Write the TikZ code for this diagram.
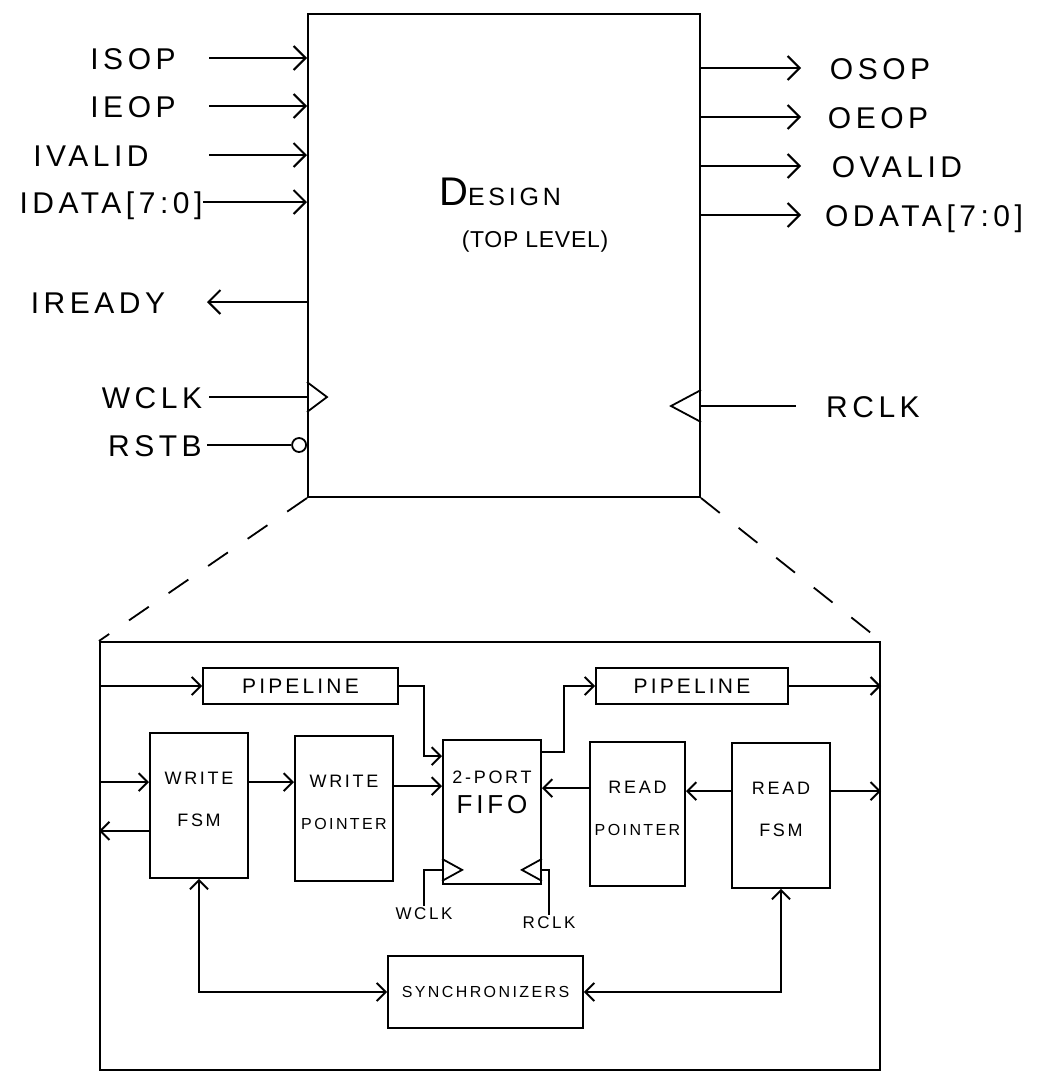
\documentclass[tikz,border=0pt]{standalone}
\usepackage{fontspec}
\newfontfamily\handfont[LetterSpace=15]{Liberation Sans}
\newfontfamily\handtight[LetterSpace=3]{Liberation Sans}
\usepackage{tikz}
\usetikzlibrary{arrows.meta, positioning, fit, calc}
\tikzset{
  top_box/.style={draw, line width=1pt, inner sep=0pt},
  sub_box/.style={draw, line width=1pt, inner sep=0pt},
  block/.style={draw, line width=0.9pt, inner sep=0pt},
  block_text/.style={inner sep=0pt, yshift=3pt, align=center, font=\handfont\fontsize{9}{21}\selectfont},
  pipe_text/.style={inner sep=0pt, font=\handfont\fontsize{10.5}{12}\selectfont},
  port_label/.style={font=\handfont\fontsize{15}{15}\selectfont, inner sep=0pt, text height=11pt, text depth=0pt},
  clk_text/.style={font=\handfont\fontsize{8.5}{10}\selectfont, inner sep=1pt},
  port_arrow/.style={-{Straight Barb[length=6pt, width=12pt]}, line width=1pt},
  flow/.style={-{Straight Barb[length=4.5pt, width=9pt]}, line width=1pt},
  both_flow/.style={{Straight Barb[length=4.5pt, width=9pt]}-{Straight Barb[length=4.5pt, width=9pt]}, line width=1pt},
  wire/.style={line width=0.9pt},
  zoom_line/.style={line width=0.9pt, dash pattern=on 12pt off 12pt}
}

\begin{document}
\begin{tikzpicture}[x=0.5pt, y=-0.5pt]
  \useasboundingbox (0,0) rectangle (1044,1082);

  % Top level block
  \node[top_box, fit={(308,14) (700,497)}] (design) {};
  \node[font=\handfont\fontsize{20}{20}\selectfont] (design_txt) at (500,192) {D{\fontsize{12.5}{12}\selectfont ESIGN}};
  \node[font=\handtight\fontsize{11.5}{11}\selectfont] (level_txt) at (535,242) {(TOP LEVEL)};

  % Inputs
  \node[port_label] (isop) at (133,58) {ISOP};
  \node[port_label] (ieop) at (133,106) {IEOP};
  \node[port_label] (ivalid) at (91,155) {IVALID};
  \node[port_label] (idata) at (111,202) {IDATA[7:0]};
  \node[port_label] (iready) at (98,302) {IREADY};
  \node[port_label] (wclk) at (152,397) {WCLK};
  \node[port_label] (rstb) at (155,445) {RSTB};

  \draw[port_arrow] ($(isop -| design.west)+(-98,0)$) -- (isop -| design.west);
  \draw[port_arrow] ($(ieop -| design.west)+(-98,0)$) -- (ieop -| design.west);
  \draw[port_arrow] ($(ivalid -| design.west)+(-98,0)$) -- (ivalid -| design.west);
  \draw[port_arrow] ($(idata -| design.west)+(-104,0)$) -- (idata -| design.west);
  \draw[port_arrow] (iready -| design.west) -- ++(-100,0);

  % Write clock and reset
  \draw[wire] ($(wclk -| design.west)+(-98,0)$) -- (wclk -| design.west);
  \draw[wire] ($(wclk -| design.west)+(0,-15)$) -- ++(20,15) -- ++(-20,15);
  \node[circle, draw, line width=0.9pt, minimum size=7pt, inner sep=0pt, anchor=east] (rstb_n) at (rstb -| design.west) {};
  \draw[wire] ($(rstb_n.west)+(-84,0)$) -- (rstb_n.west);

  % Outputs
  \node[port_label] (osop) at (880,68) {OSOP};
  \node[port_label] (oeop) at (878,117) {OEOP};
  \node[port_label] (ovalid) at (897,166) {OVALID};
  \node[port_label] (odata) at (924,215) {ODATA[7:0]};
  \node[port_label] (rclk) at (873,406) {RCLK};

  \draw[port_arrow] (osop -| design.east) -- ++(100,0);
  \draw[port_arrow] (oeop -| design.east) -- ++(100,0);
  \draw[port_arrow] (ovalid -| design.east) -- ++(100,0);
  \draw[port_arrow] (odata -| design.east) -- ++(100,0);

  % Read clock
  \draw[wire] (rclk -| design.east) -- ++(95,0);
  \draw[wire] ($(rclk -| design.east)+(0,-16)$) -- ++(-30,16) -- ++(30,16);

  % Expanded view
  \node[sub_box, fit={(100,642) (880,1070)}] (sub) {};
  \draw[zoom_line] (design.south west) -- (sub.north west);
  \draw[zoom_line] (design.south east) -- (sub.north east);

  % Blocks inside
  \node[block, fit={(203,668) (398,704)}, label={[pipe_text]center:PIPELINE}] (pipe_in) {};
  \node[block, fit={(596,668) (788,704)}, label={[pipe_text]center:PIPELINE}] (pipe_out) {};
  \node[block, fit={(150,733) (248,878)}, label={[block_text]center:WRITE\\FSM}] (wfsm) {};
  \node[block, fit={(295,736) (393,881)}, label={[block_text]center:WRITE\\{\fontsize{8}{8}\selectfont POINTER}}] (wptr) {};
  \node[block, fit={(443,740) (541,884)}, label={[block_text, yshift=7pt]center:2-PORT\\[-6pt]{\fontsize{13}{13}\selectfont FIFO}}] (fifo) {};
  \node[block, fit={(590,742) (685,886)}, label={[block_text]center:READ\\{\fontsize{8}{8}\selectfont POINTER}}] (rptr) {};
  \node[block, fit={(732,743) (830,888)}, label={[block_text]center:READ\\FSM}] (rfsm) {};
  \node[block, fit={(388,956) (583,1028)}, label={[inner sep=0pt, font=\handfont\fontsize{8}{10}\selectfont]center:SYNCHRONIZERS}] (sync) {};

  \coordinate (wfsm_in) at ($(wfsm.north west)+(0,50)$);
  \coordinate (wfsm_out) at ($(wfsm.south west)+(0,-48)$);
  \coordinate (fifo_pin) at ($(fifo.north west)+(0,17)$);
  \coordinate (fifo_in) at ($(fifo.north west)+(0,47)$);
  \coordinate (fifo_pout) at ($(fifo.north east)+(0,13)$);
  \coordinate (fifo_out) at ($(fifo.north east)+(0,49)$);
  \coordinate (rptr_in) at ($(rptr.north east)+(0,50)$);

  % Write side
  \draw[flow] (sub.west |- pipe_in.west) -- (pipe_in.west);
  \draw[flow] (pipe_in.east) -- ++(25,0) |- (fifo_pin);
  \draw[flow] (sub.west |- wfsm_in) -- (wfsm_in);
  \draw[flow] (wfsm.east |- wfsm_in) -- (wptr.west |- wfsm_in);
  \draw[flow] (wptr.east |- fifo_in) -- (fifo_in);
  \draw[flow] (wfsm_out) -- (wfsm_out -| sub.west);

  % Read side
  \draw[flow] (fifo_pout) -- ++(22,0) |- (pipe_out.west);
  \draw[flow] (pipe_out.east) -- (pipe_out.east -| sub.east);
  \draw[flow] (rptr.west |- fifo_out) -- (fifo_out);
  \draw[flow] (rfsm.west |- rptr_in) -- (rptr_in);
  \draw[flow] (rfsm.east |- rptr_in) -- (rptr_in -| sub.east);

  % Synchronizers
  \draw[both_flow] (wfsm.south) |- (sync.west);
  \draw[both_flow] (rfsm.south) |- (sync.east);

  % FIFO clocks
  \node[clk_text] (wclk_in) at (424,914) {WCLK};
  \node[clk_text] (rclk_in) at (549,923) {RCLK};
  \draw[wire] ($(fifo.south west)+(0,-26)$) -- ++(20,11) -- ++(-20,11);
  \draw[wire] ($(fifo.south east)+(0,-26)$) -- ++(-20,11) -- ++(20,11);
  \draw[wire] (wclk_in.north) |- ($(fifo.south west)+(0,-15)$);
  \draw[wire] (rclk_in.north) |- ($(fifo.south east)+(0,-15)$);

\end{tikzpicture}
\end{document}
